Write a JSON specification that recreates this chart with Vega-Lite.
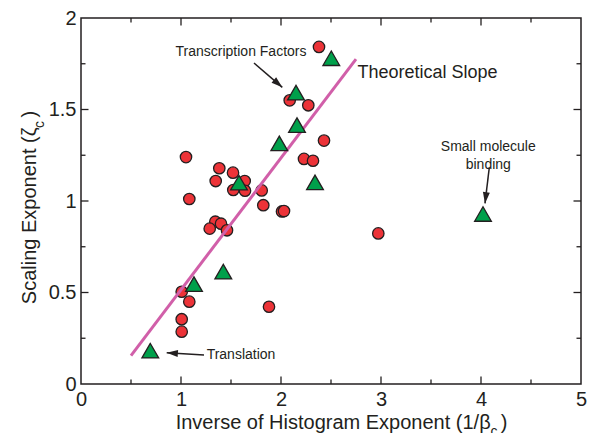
{
  "$schema": "https://vega.github.io/schema/vega-lite/v6.json",
  "width": 500,
  "height": 366,
  "autosize": {"type": "none"},
  "padding": {"left": 81, "top": 18, "right": 13, "bottom": 49},
  "background": "white",
  "config": {
    "view": {"stroke": "#231f20", "strokeWidth": 1.5},
    "font": "Liberation Sans",
    "axis": {
      "grid": false,
      "ticks": false,
      "domain": false,
      "labelFont": "Liberation Sans",
      "labelFontSize": 20,
      "labelColor": "#231f20",
      "labelFlush": false,
      "labelOverlap": false,
      "titleFont": "Liberation Sans",
      "titleFontSize": 20,
      "titleFontWeight": "normal",
      "titleColor": "#231f20"
    },
    "rule": {"color": "#231f20", "strokeWidth": 1.3}
  },
  "datasets": {
    "proteins": [
      {"inv_beta": 2.38, "zeta": 1.842, "group": "A"},
      {"inv_beta": 2.087, "zeta": 1.55, "group": "A"},
      {"inv_beta": 2.273, "zeta": 1.523, "group": "A"},
      {"inv_beta": 2.43, "zeta": 1.33, "group": "A"},
      {"inv_beta": 1.05, "zeta": 1.24, "group": "A"},
      {"inv_beta": 2.23, "zeta": 1.23, "group": "A"},
      {"inv_beta": 2.32, "zeta": 1.22, "group": "A"},
      {"inv_beta": 1.383, "zeta": 1.179, "group": "A"},
      {"inv_beta": 1.52, "zeta": 1.155, "group": "A"},
      {"inv_beta": 1.347, "zeta": 1.109, "group": "A"},
      {"inv_beta": 1.637, "zeta": 1.109, "group": "A"},
      {"inv_beta": 1.523, "zeta": 1.06, "group": "A"},
      {"inv_beta": 1.64, "zeta": 1.056, "group": "A"},
      {"inv_beta": 1.807, "zeta": 1.058, "group": "A"},
      {"inv_beta": 1.083, "zeta": 1.011, "group": "A"},
      {"inv_beta": 1.823, "zeta": 0.977, "group": "A"},
      {"inv_beta": 2.01, "zeta": 0.943, "group": "A"},
      {"inv_beta": 2.03, "zeta": 0.945, "group": "A"},
      {"inv_beta": 1.343, "zeta": 0.887, "group": "A"},
      {"inv_beta": 1.4, "zeta": 0.876, "group": "A"},
      {"inv_beta": 1.287, "zeta": 0.849, "group": "A"},
      {"inv_beta": 1.46, "zeta": 0.84, "group": "A"},
      {"inv_beta": 2.973, "zeta": 0.823, "group": "A"},
      {"inv_beta": 1.007, "zeta": 0.504, "group": "A"},
      {"inv_beta": 1.083, "zeta": 0.45, "group": "A"},
      {"inv_beta": 1.88, "zeta": 0.422, "group": "A"},
      {"inv_beta": 1.007, "zeta": 0.354, "group": "A"},
      {"inv_beta": 1.007, "zeta": 0.286, "group": "A"},
      {"inv_beta": 2.503, "zeta": 1.78, "group": "B"},
      {"inv_beta": 2.15, "zeta": 1.592, "group": "B"},
      {"inv_beta": 2.16, "zeta": 1.415, "group": "B"},
      {"inv_beta": 1.983, "zeta": 1.315, "group": "B"},
      {"inv_beta": 1.58, "zeta": 1.1, "group": "B"},
      {"inv_beta": 2.34, "zeta": 1.102, "group": "B"},
      {"inv_beta": 1.423, "zeta": 0.614, "group": "B"},
      {"inv_beta": 1.13, "zeta": 0.546, "group": "B"},
      {"inv_beta": 0.693, "zeta": 0.182, "group": "B"},
      {"inv_beta": 4.02, "zeta": 0.929, "group": "B"}
    ],
    "slope": [
      {"inv_beta": 0.5, "zeta": 0.155},
      {"inv_beta": 2.75, "zeta": 1.775}
    ],
    "xticks": [
      {"v": 0.5, "kind": "minor"}, {"v": 1, "kind": "major"},
      {"v": 1.5, "kind": "minor"}, {"v": 2, "kind": "major"},
      {"v": 2.5, "kind": "minor"}, {"v": 3, "kind": "major"},
      {"v": 3.5, "kind": "minor"}, {"v": 4, "kind": "major"},
      {"v": 4.5, "kind": "minor"}
    ],
    "yticks": [
      {"v": 0.25, "kind": "minor"}, {"v": 0.5, "kind": "major"},
      {"v": 0.75, "kind": "minor"}, {"v": 1, "kind": "major"},
      {"v": 1.25, "kind": "minor"}, {"v": 1.5, "kind": "major"},
      {"v": 1.75, "kind": "minor"}
    ],
    "arrows": [
      {"x": 1.73, "y": 1.754, "x2": 2.013, "y2": 1.621, "heading": 131},
      {"x": 4.083, "y": 1.184, "x2": 4.04, "y2": 0.987, "heading": 187},
      {"x": 1.23, "y": 0.158, "x2": 0.857, "y2": 0.171, "heading": 274}
    ],
    "callouts": [
      {"x": 1.6, "y": 1.814, "label": "Transcription Factors"},
      {"x": 4.073, "y": 1.294, "label": "Small molecule\nbinding"},
      {"x": 1.6, "y": 0.16, "label": "Translation"}
    ],
    "lineLabel": [
      {"x": 3.465, "y": 1.699, "label": "Theoretical Slope"}
    ],
    "subscripts": [
      {"x": 4.13, "y": -0.262, "label": "c", "rot": 0},
      {"x": -0.41, "y": 1.418, "label": "c", "rot": 270}
    ]
  },
  "layer": [
    {
      "data": {"name": "proteins"},
      "transform": [{"filter": "datum.group === 'A'"}],
      "mark": {"type": "point", "shape": "circle", "filled": true, "size": 130, "fill": "#ec3338", "stroke": "#231f20", "strokeWidth": 1.3, "opacity": 1},
      "encoding": {
        "x": {
          "field": "inv_beta", "type": "quantitative",
          "scale": {"domain": [0, 5], "nice": false, "zero": false},
          "axis": {
            "orient": "bottom",
            "title": "Inverse of Histogram Exponent (1/β\u2002)",
            "values": [0, 1, 2, 3, 4, 5],
            "format": "~g",
            "labelPadding": 5.5,
            "titlePadding": 3,
            "titleX": 260
          }
        },
        "y": {
          "field": "zeta", "type": "quantitative",
          "scale": {"domain": [0, 2], "nice": false, "zero": false},
          "axis": {
            "orient": "left",
            "title": "Scaling Exponent (ζ\u2002)",
            "values": [0, 0.5, 1, 1.5, 2],
            "format": "~g",
            "labelPadding": 5,
            "titlePadding": 9,
            "titleY": 189
          }
        }
      }
    },
    {
      "data": {"name": "xticks"},
      "transform": [{"filter": "datum.kind === 'major'"}],
      "mark": {"type": "rule", "y2Offset": -7.5},
      "encoding": {
        "x": {"field": "v", "type": "quantitative"},
        "y": {"datum": 0, "type": "quantitative"},
        "y2": {"datum": 0}
      }
    },
    {
      "data": {"name": "xticks"},
      "transform": [{"filter": "datum.kind === 'minor'"}],
      "mark": {"type": "rule", "y2Offset": -4.5},
      "encoding": {
        "x": {"field": "v", "type": "quantitative"},
        "y": {"datum": 0, "type": "quantitative"},
        "y2": {"datum": 0}
      }
    },
    {
      "data": {"name": "xticks"},
      "transform": [{"filter": "datum.kind === 'major'"}],
      "mark": {"type": "rule", "y2Offset": 7.5},
      "encoding": {
        "x": {"field": "v", "type": "quantitative"},
        "y": {"datum": 2, "type": "quantitative"},
        "y2": {"datum": 2}
      }
    },
    {
      "data": {"name": "xticks"},
      "transform": [{"filter": "datum.kind === 'minor'"}],
      "mark": {"type": "rule", "y2Offset": 4.5},
      "encoding": {
        "x": {"field": "v", "type": "quantitative"},
        "y": {"datum": 2, "type": "quantitative"},
        "y2": {"datum": 2}
      }
    },
    {
      "data": {"name": "yticks"},
      "transform": [{"filter": "datum.kind === 'major'"}],
      "mark": {"type": "rule", "x2Offset": 7.5},
      "encoding": {
        "y": {"field": "v", "type": "quantitative"},
        "x": {"datum": 0, "type": "quantitative"},
        "x2": {"datum": 0}
      }
    },
    {
      "data": {"name": "yticks"},
      "transform": [{"filter": "datum.kind === 'minor'"}],
      "mark": {"type": "rule", "x2Offset": 4.5},
      "encoding": {
        "y": {"field": "v", "type": "quantitative"},
        "x": {"datum": 0, "type": "quantitative"},
        "x2": {"datum": 0}
      }
    },
    {
      "data": {"name": "yticks"},
      "transform": [{"filter": "datum.kind === 'major'"}],
      "mark": {"type": "rule", "x2Offset": -7.5},
      "encoding": {
        "y": {"field": "v", "type": "quantitative"},
        "x": {"datum": 5, "type": "quantitative"},
        "x2": {"datum": 5}
      }
    },
    {
      "data": {"name": "yticks"},
      "transform": [{"filter": "datum.kind === 'minor'"}],
      "mark": {"type": "rule", "x2Offset": -4.5},
      "encoding": {
        "y": {"field": "v", "type": "quantitative"},
        "x": {"datum": 5, "type": "quantitative"},
        "x2": {"datum": 5}
      }
    },
    {
      "data": {"name": "slope"},
      "mark": {"type": "line", "color": "#d15fa9", "strokeWidth": 3},
      "encoding": {
        "x": {"field": "inv_beta", "type": "quantitative"},
        "y": {"field": "zeta", "type": "quantitative"}
      }
    },
    {
      "data": {"name": "proteins"},
      "transform": [{"filter": "datum.group === 'B'"}],
      "mark": {"type": "point", "shape": "triangle-up", "filled": true, "size": 280, "fill": "#00a04b", "stroke": "#231f20", "strokeWidth": 1.3, "opacity": 1},
      "encoding": {
        "x": {"field": "inv_beta", "type": "quantitative"},
        "y": {"field": "zeta", "type": "quantitative"}
      }
    },
    {
      "data": {"name": "arrows"},
      "mark": {"type": "rule", "color": "#231f20", "strokeWidth": 1.5},
      "encoding": {
        "x": {"field": "x", "type": "quantitative"},
        "y": {"field": "y", "type": "quantitative"},
        "x2": {"field": "x2"},
        "y2": {"field": "y2"}
      }
    },
    {
      "data": {"name": "arrows"},
      "mark": {"type": "point", "shape": "M0,0L0.5,1.6L-0.5,1.6Z", "filled": true, "size": 196, "fill": "#231f20", "strokeWidth": 0, "opacity": 1},
      "encoding": {
        "x": {"field": "x2", "type": "quantitative"},
        "y": {"field": "y2", "type": "quantitative"},
        "angle": {"field": "heading", "type": "quantitative", "scale": null}
      }
    },
    {
      "data": {"name": "callouts"},
      "mark": {"type": "text", "font": "Liberation Sans", "fontSize": 14, "color": "#231f20", "align": "center", "baseline": "middle", "lineBreak": "\n", "lineHeight": 18},
      "encoding": {
        "x": {"field": "x", "type": "quantitative"},
        "y": {"field": "y", "type": "quantitative"},
        "text": {"field": "label"}
      }
    },
    {
      "data": {"name": "lineLabel"},
      "mark": {"type": "text", "font": "Liberation Sans", "fontSize": 18, "color": "#231f20", "align": "center", "baseline": "middle"},
      "encoding": {
        "x": {"field": "x", "type": "quantitative"},
        "y": {"field": "y", "type": "quantitative"},
        "text": {"field": "label"}
      }
    },
    {
      "data": {"name": "subscripts"},
      "mark": {"type": "text", "font": "Liberation Sans", "fontSize": 14, "color": "#231f20", "align": "center", "baseline": "middle"},
      "encoding": {
        "x": {"field": "x", "type": "quantitative"},
        "y": {"field": "y", "type": "quantitative"},
        "angle": {"field": "rot", "type": "quantitative", "scale": null},
        "text": {"field": "label"}
      }
    }
  ]
}
